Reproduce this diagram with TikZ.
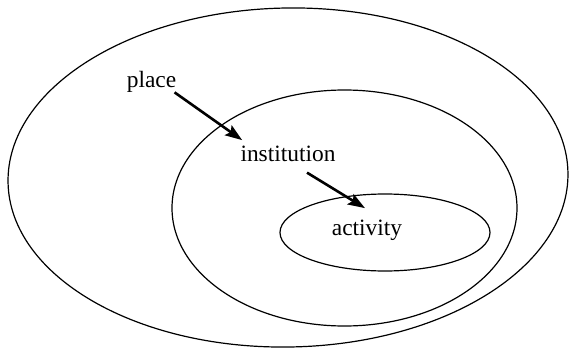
\documentclass[tikz,border=0pt]{standalone}
\usepackage{fontspec}
\setmainfont{Liberation Serif}
\usetikzlibrary{arrows.meta, positioning, calc}

\tikzset{
	label/.style={inner sep=0pt, anchor=base, font=\fontsize{11.7}{14}\selectfont},
	ring/.style={line width=0.6pt},
	pointer/.style={line width=1.3pt, -{Stealth[length=8.5pt, width=6pt, inset=1.5pt]}}
}

\begin{document}
\begin{tikzpicture}[x=0.5pt, y=-0.5pt]
		\useasboundingbox (0,0) rectangle (569,348);
		
		% Nested areas
		\draw[ring, rotate around={1:(288,177.5)}] (288,177.5) ellipse [x radius=280, y radius=169.5];
		\draw[ring] (344.5,208) ellipse [x radius=172.5, y radius=118];
		\draw[ring] (385,232.5) ellipse [x radius=105, y radius=38.5];
		
		\node[label] (place) at (151.5,88) {place};
		\node[label] (institution) at (288,162) {institution};
		\node[label] (activity) at (367,235) {activity};
		
		\draw[pointer] ([shift={(-2,-1)}]place.south east) -- ([shift={(2,-6)}]institution.north west);
		\draw[pointer] ([shift={(19,10)}]institution.south) -- ([shift={(-2,-11)}]activity.north);
	\end{tikzpicture}
\end{document}
